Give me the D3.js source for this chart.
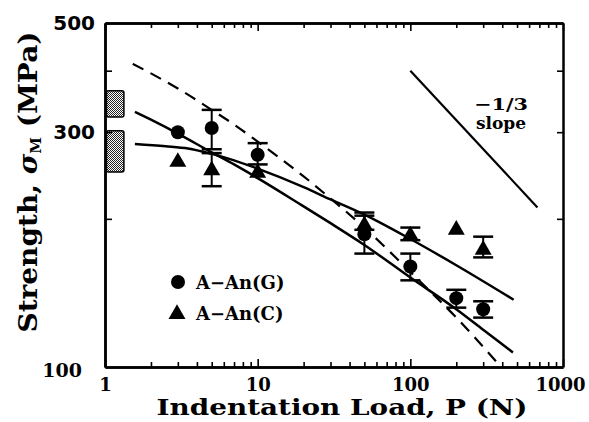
<html>
    <head>
        <script type="text/javascript" src="https://d3js.org/d3.v7.min.js"></script>
        <style>
            body { margin: 0; background: #fff; }
            .serif { font-family: "DejaVu Serif", serif; font-weight: bold; }
            .sans { font-family: "DejaVu Sans", sans-serif; font-weight: bold; }
        </style>
    </head>

    <body>
        <svg width="589" height="422"></svg>
        <script>
            var marge = {top: 23, bottom: 55, left: 105, right: 26};
            var svg = d3.select("svg");
            var width = +svg.attr("width");
            var height = +svg.attr("height");

            // measured points, A-An(G) circles
            var loadG = [3, 5, 10, 50, 100, 200, 300];
            var strengthG = [300, 306, 270, 186, 160, 138, 131];
            var errHiG = [null, 333, 285, 203, 170, 143.5, 136];
            var errLoG = [null, 277, 258, 170, 150, 132, 126];

            // measured points, A-An(C) triangles
            var loadC = [3, 5, 10, 50, 100, 200, 300];
            var strengthC = [261, 251, 248, 194, 185, 190, 173];
            var errHiC = [null, 272, null, 206, 192, null, 184];
            var errLoC = [null, 233, null, 190, 181, null, 167];

            // fitted curves
            var steepP = [1.57, 2, 3, 5, 7, 10, 20, 30, 50, 100, 200, 300, 470];
            var steepS = [330, 318, 298, 273, 258, 242, 212, 196, 177, 152, 131, 119, 107];
            var shallowP = [1.57, 2.5, 3.5, 5, 7, 10, 20, 30, 50, 100, 200, 475];
            var shallowS = [284, 281, 278, 271, 263, 253, 232, 219, 204, 182, 161, 137];
            var dashedP = [1.52, 2, 3, 5, 7, 10, 20, 30, 50, 100, 200, 382];
            var dashedS = [413, 395, 368, 333, 311, 287, 244, 220, 192, 156, 126, 101];

            // -1/3 slope guide
            var slopeP = [100, 680];
            var slopeS = [400, 211];

            // shaded bands on left axis
            var bandP = [1, 1.33];
            var bandLo = [322, 249];
            var bandHi = [364, 302];

            var xMajor = [1, 10, 100, 1000];
            var xMinor = [2, 3, 4, 5, 6, 7, 8, 9, 20, 30, 40, 50, 60, 70, 80, 90, 200, 300, 400, 500, 600, 700, 800, 900];
            var yLabels = [100, 300, 500];
            var yTicks = [200, 300, 400];

            var xScale = d3.scaleLog().domain([1, 1000]).range([marge.left, width - marge.right]);
            var yScale = d3.scaleLog().domain([100, 500]).range([height - marge.bottom, marge.top]);
            var x0 = xScale.range()[0], x1 = xScale.range()[1];
            var y0 = yScale.range()[0], y1 = yScale.range()[1];

            // stipple pattern for bands
            var pat = svg.append("defs").append("pattern")
                .attr("id", "stip").attr("width", 2).attr("height", 2)
                .attr("patternUnits", "userSpaceOnUse");
            pat.append("rect").attr("width", 2).attr("height", 2).attr("fill", "#fff");
            pat.append("rect").attr("width", 1).attr("height", 1).attr("fill", "#222");
            pat.append("rect").attr("x", 1).attr("y", 1).attr("width", 1).attr("height", 1).attr("fill", "#222");

            svg.selectAll(".band").data(bandLo).enter().append("rect")
                .attr("x", xScale(bandP[0]) + 1.5)
                .attr("y", function(d, i) { return yScale(bandHi[i]); })
                .attr("width", xScale(bandP[1]) - xScale(bandP[0]) - 1.5)
                .attr("height", function(d, i) { return yScale(d) - yScale(bandHi[i]); })
                .attr("rx", 2)
                .attr("fill", "url(#stip)")
                .attr("stroke", "#000").attr("stroke-width", 1.5);

            // axes: ticks pointing inward
            function styleAxis(sel) {
                sel.selectAll("path.domain").attr("stroke-width", 2.5);
                sel.selectAll(".tick line").attr("stroke-width", 1.6);
            }
            svg.append("g").attr("transform", "translate(0," + y0 + ")")
                .call(d3.axisBottom(xScale).tickValues(xMinor).tickSizeInner(-5).tickSizeOuter(0).tickFormat(""))
                .call(styleAxis);
            var xAxisG = svg.append("g").attr("transform", "translate(0," + y0 + ")")
                .call(d3.axisBottom(xScale).tickValues(xMajor).tickSizeInner(-8).tickSizeOuter(0).tickPadding(11).tickFormat(d3.format("d")))
                .call(styleAxis);
            xAxisG.selectAll("text").attr("class", "serif").attr("font-size", 18).attr("fill", "#000");
            xAxisG.selectAll(".tick").filter(function(d) { return d == 1000; }).select("text").attr("dx", -3);

            svg.append("g").attr("transform", "translate(0," + y1 + ")")
                .call(d3.axisTop(xScale).tickValues(xMinor).tickSizeInner(-5).tickSizeOuter(0).tickFormat(""))
                .call(styleAxis);
            svg.append("g").attr("transform", "translate(0," + y1 + ")")
                .call(d3.axisTop(xScale).tickValues(xMajor).tickSizeInner(-8).tickSizeOuter(0).tickFormat(""))
                .call(styleAxis);

            svg.append("g").attr("transform", "translate(" + x0 + ",0)")
                .call(d3.axisLeft(yScale).tickValues(yTicks).tickSizeInner(-7).tickSizeOuter(0).tickFormat(""))
                .call(styleAxis);
            var yAxisG = svg.append("g").attr("transform", "translate(" + x0 + ",0)")
                .call(d3.axisLeft(yScale).tickValues(yLabels).tickSize(0).tickPadding(10).tickFormat(d3.format("d")))
                .call(styleAxis);
            yAxisG.selectAll("text").attr("class", "sans").attr("font-size", 20).attr("fill", "#000");
            yAxisG.selectAll(".tick").filter(function(d) { return d == 100; }).select("text")
                .attr("class", "serif").attr("font-size", 19).attr("dx", -13).attr("dy", "0.5em");

            svg.append("g").attr("transform", "translate(" + x1 + ",0)")
                .call(d3.axisRight(yScale).tickValues(yTicks).tickSizeInner(-6).tickSizeOuter(0).tickFormat(""))
                .call(styleAxis);

            // curves
            var line = function(px, py) {
                return d3.line()
                    .x(function(d, i) { return xScale(px[i]); })
                    .y(function(d, i) { return yScale(py[i]); })
                    .curve(d3.curveMonotoneX)(px);
            };
            svg.append("path").attr("d", line(steepP, steepS))
                .attr("fill", "none").attr("stroke", "#000").attr("stroke-width", 2.5);
            svg.append("path").attr("d", line(shallowP, shallowS))
                .attr("fill", "none").attr("stroke", "#000").attr("stroke-width", 2.5);
            svg.append("path").attr("d", line(dashedP, dashedS))
                .attr("fill", "none").attr("stroke", "#000").attr("stroke-width", 2.2)
                .attr("stroke-dasharray", "12,8");
            svg.append("path").attr("d", line(slopeP, slopeS))
                .attr("fill", "none").attr("stroke", "#000").attr("stroke-width", 2.2);

            // error bars
            function errBars(px, hi, lo) {
                var idx = d3.range(px.length).filter(function(i) { return hi[i] != null; });
                var g = svg.append("g").attr("stroke", "#000");
                idx.forEach(function(i) {
                    var cx = xScale(px[i]);
                    g.append("line").attr("x1", cx).attr("x2", cx)
                        .attr("y1", yScale(hi[i])).attr("y2", yScale(lo[i])).attr("stroke-width", 2);
                    [hi[i], lo[i]].forEach(function(v) {
                        g.append("line").attr("x1", cx - 10).attr("x2", cx + 10)
                            .attr("y1", yScale(v)).attr("y2", yScale(v)).attr("stroke-width", 2.5);
                    });
                });
            }
            errBars(loadG, errHiG, errLoG);
            errBars(loadC, errHiC, errLoC);

            // markers
            var tri = d3.symbol().type(d3.symbolTriangle).size(125);
            svg.selectAll(".tri").data(strengthC).enter().append("path")
                .attr("d", tri)
                .attr("transform", function(d, i) { return "translate(" + xScale(loadC[i]) + "," + yScale(d) + ")"; })
                .attr("fill", "#000");
            svg.selectAll(".dot").data(strengthG).enter().append("circle")
                .attr("cx", function(d, i) { return xScale(loadG[i]); })
                .attr("cy", function(d) { return yScale(d); })
                .attr("r", 7)
                .attr("fill", "#000");

            // legend
            svg.append("circle").attr("cx", 178).attr("cy", 282).attr("r", 7).attr("fill", "#000");
            svg.append("path").attr("d", tri).attr("transform", "translate(177,314)").attr("fill", "#000");
            svg.append("text").attr("class", "serif").attr("font-size", 18)
                .attr("x", 196).attr("y", 289).text("A\u2212An(G)");
            svg.append("text").attr("class", "serif").attr("font-size", 18)
                .attr("x", 196).attr("y", 320).text("A\u2212An(C)");

            // slope note
            svg.append("text").attr("class", "serif").attr("font-size", 17)
                .attr("x", 501).attr("y", 110).attr("text-anchor", "middle")
                .attr("textLength", 54).attr("lengthAdjust", "spacingAndGlyphs").text("\u22121/3");
            svg.append("text").attr("class", "serif").attr("font-size", 17)
                .attr("x", 501).attr("y", 129).attr("text-anchor", "middle").text("slope");

            // axis titles
            svg.append("text").attr("class", "serif").attr("font-size", 23)
                .attr("x", 342).attr("y", 415).attr("text-anchor", "middle")
                .attr("textLength", 371).attr("lengthAdjust", "spacingAndGlyphs")
                .text("Indentation Load, P (N)");

            var yt = svg.append("text").attr("class", "serif").attr("font-size", 26)
                .attr("transform", "translate(37,182) rotate(-90)")
                .attr("text-anchor", "middle")
                .attr("textLength", 301).attr("lengthAdjust", "spacingAndGlyphs");
            yt.append("tspan").text("Strength, ");
            yt.append("tspan").attr("font-style", "italic").text("\u03c3");
            yt.append("tspan").attr("font-size", 14).attr("dy", 4).text("M");
            yt.append("tspan").attr("dy", -4).text(" (MPa)");
        </script>
    </body>
</html>
